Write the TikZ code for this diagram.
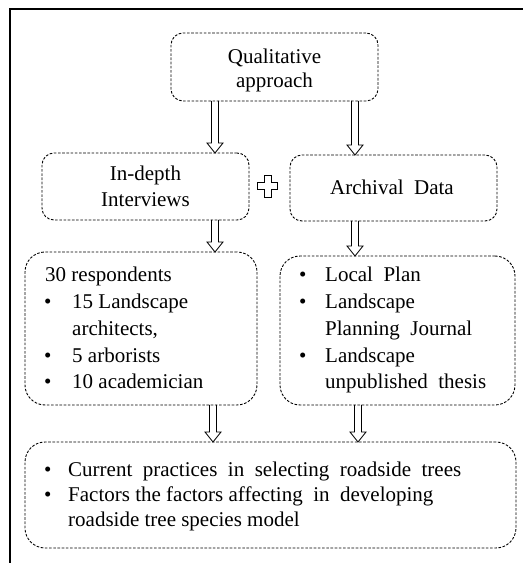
\documentclass[tikz,border=0pt]{standalone}
\usepackage{fontspec}
\setmainfont{Liberation Serif}
\usetikzlibrary{calc}
\begin{document}
\begin{tikzpicture}[x=1pt,y=1pt,
  box/.style={draw, dash pattern=on 2.6pt off 1.6pt, rounded corners=#1, line width=0.9pt, inner sep=0pt, outer sep=0pt, shape=rectangle},
  box/.default=12pt,
  txt/.style={anchor=base west, inner sep=0pt, font=\fontsize{21}{25}\selectfont},
  ctxt/.style={anchor=base, inner sep=0pt, font=\fontsize{21}{25}\selectfont},
  hollow/.style={line width=0.8pt, to path={let \p1=(\tikztostart), \p2=(\tikztotarget) in
     (\x1-3.5pt,\y1) -- (\x1-3.5pt,\y2+10pt) -- (\x1-8pt,\y2+10pt) -- (\x1,\y2) -- (\x1+8pt,\y2+10pt) -- (\x1+3.5pt,\y2+10pt) -- (\x1+3.5pt,\y1)}}
]
\useasboundingbox (0,0) rectangle (523,563);
% frame (top and left edges)
\draw[line width=2pt] (10,0) -- (10,554) -- (523,554);

% boxes
\node[box, minimum width=207pt, minimum height=68pt] (q) at (274.5,496) {};
\node[box, minimum width=207pt, minimum height=67pt] (i) at (145.5,376.5) {};
\node[box, minimum width=207pt, minimum height=66pt] (a) at (393.5,375) {};
\node[box=20pt, minimum width=232pt, minimum height=153pt] (l) at (141,234.5) {};
\node[box=20pt, minimum width=235pt, minimum height=149pt] (r) at (397.5,232.5) {};
\node[box=20pt, minimum width=491pt, minimum height=106pt] (b) at (270.5,68) {};

% texts
\node[ctxt] (q1) at (274.5,499) {Qualitative};
\node[ctxt] (q2) at (274.5,475) {approach};
\node[ctxt] (i1) at (145.5,382) {In-depth};
\node[ctxt] (i2) at (145.5,356) {Interviews};
\node[ctxt] (a1) at (392,368) {Archival\ \ Data};

\node[txt] (l0) at (45,281) {30 respondents};
\node[txt] (l1b) at (44,254) {•};
\node[txt] (l1) at (72,254) {15 Landscape};
\node[txt] (l2) at (72,227) {architects,};
\node[txt] (l3b) at (44,200) {•};
\node[txt] (l3) at (72,200) {5 arborists};
\node[txt] (l4b) at (44,174) {•};
\node[txt] (l4) at (72,174) {10 academician};

\node[txt] (r1b) at (299,281) {•};
\node[txt] (r1) at (325,281) {Local\ \ Plan};
\node[txt] (r2b) at (299,254) {•};
\node[txt] (r2) at (325,254) {Landscape};
\node[txt] (r3) at (325,227) {Planning\ \ Journal};
\node[txt] (r4b) at (299,200) {•};
\node[txt] (r4) at (325,200) {Landscape};
\node[txt] (r5) at (325,174) {unpublished\ \ thesis};

\node[txt] (b1b) at (44,86) {•};
\node[txt] (b1) at (68,86) {Current\ \ practices\ \ in\ \ selecting\ \ roadside\ \ trees};
\node[txt] (b2b) at (44,61) {•};
\node[txt] (b2) at (68,61) {Factors the factors affecting\ \ in\ \ developing};
\node[txt] (b3) at (68,36) {roadside tree species model};

% plus sign
\draw[line width=0.9pt] (264,388) -- (271,388) -- (271,380.5) -- (277.5,380.5) -- (277.5,373.5) -- (271,373.5)
  -- (271,366) -- (264,366) -- (264,373.5) -- (257.5,373.5) -- (257.5,380.5) -- (264,380.5) -- cycle;

% arrow x positions
\coordinate (x1) at (215,0);
\coordinate (x2) at (355,0);
\coordinate (x3) at (213,0);
\coordinate (x4) at (358,0);

\draw[hollow] (q.south -| x1) to (i.north -| x1);
\draw[hollow] (q.south -| x2) to (a.north -| x2);
\draw[hollow] (i.south -| x1) to (l.north -| x1);
\draw[hollow] (a.south -| x2) to (r.north -| x2);
\draw[hollow] (l.south -| x3) to (b.north -| x3);
\draw[hollow] (r.south -| x4) to (b.north -| x4);
\end{tikzpicture}
\end{document}
